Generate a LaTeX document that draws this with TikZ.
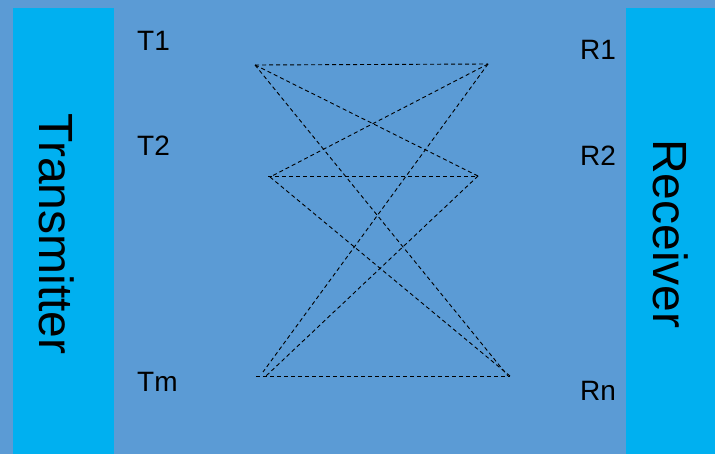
\documentclass[tikz,border=0pt]{standalone}
\usepackage{fontspec}
\setmainfont{Liberation Sans}
\definecolor{bgblue}{HTML}{5B9BD5}
\definecolor{barcyan}{HTML}{00B0F0}
\begin{document}
\begin{tikzpicture}[x=1pt,y=-1pt,
  bar/.style={fill=barcyan,draw=none},
  bartext/.style={rotate=-90,font=\fontsize{48}{56}\selectfont,inner sep=0pt},
  lbl/.style={anchor=base west,font=\fontsize{28}{32}\selectfont,inner sep=0pt},
  link/.style={draw=black,line width=0.9pt,dash pattern=on 4pt off 3pt}]
\useasboundingbox (0,0) rectangle (715,454);
\fill[bgblue] (0,0) rectangle (715,454);
\path[bar] (13,8) rectangle (114,454);
\path[bar] (626,8) rectangle (715,454);
\node[bartext] (tx) at (57,234) {Transmitter};
\node[bartext] (rx) at (671,234) {Receiver};
\node[lbl] (t1) at (137,51) {T1};
\node[lbl] (t2) at (137,156) {T2};
\node[lbl] (tm) at (137,391) {Tm};
\node[lbl] (r1) at (580,60) {R1};
\node[lbl] (r2) at (580,166) {R2};
\node[lbl] (rn) at (580,400) {Rn};
\coordinate (a1) at (255,65);
\coordinate (b1) at (488,64);
\coordinate (a2) at (270,177);
\coordinate (a2l) at (268,176);
\coordinate (b2) at (478,176);
\coordinate (a3) at (256,376);
\coordinate (a3a) at (263,372);
\coordinate (a3b) at (266,376);
\coordinate (b3) at (510,376);
\coordinate (b3a) at (508,376);
\draw[link] (a1) -- (b1);
\draw[link] (a1) -- (b2);
\draw[link] (a1) -- (b3a);
\draw[link] (b1) -- (a2);
\draw[link] (b1) -- (a3a);
\draw[link] (a2l) -- (b2);
\draw[link] (a2) -- (b3);
\draw[link] (b2) -- (a3b);
\draw[link] (a3) -- (b3);
\end{tikzpicture}
\end{document}
